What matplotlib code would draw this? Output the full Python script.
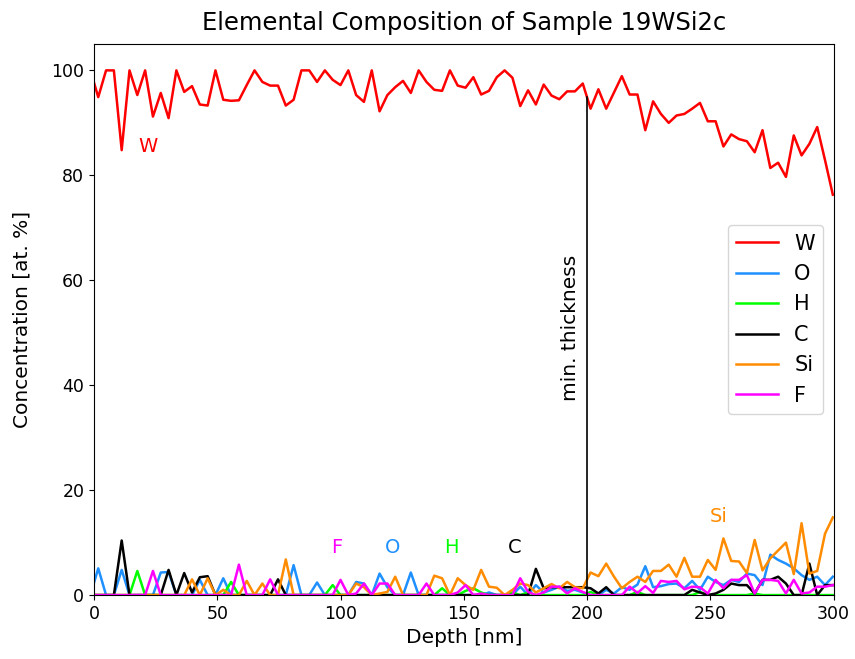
import numpy as np
import matplotlib
matplotlib.use("Agg")
import matplotlib.pyplot as plt

# depth grid (nm), ~3.17 nm spacing
depth = np.round(1.7 + 3.17 * np.arange(-1, 95), 2)

W = [100, 94.9, 100, 100, 84.8, 100, 95.3, 100, 91.2, 95.7, 90.9, 100, 95.9, 97.0, 93.5, 93.3,
     100, 94.4, 94.2, 94.3, 97.2, 100, 97.8, 97.1, 97.1, 93.3, 94.4, 100, 100, 97.8, 100, 98.2,
     97.2, 100, 95.3, 94.0, 100, 92.2, 95.3, 96.8, 98.0, 95.7, 100, 97.8, 96.3, 96.1, 100, 97.1,
     96.7, 98.7, 95.4, 96.1, 98.7, 100, 98.6, 93.2, 96.2, 93.5, 97.3, 95.2, 94.5, 96.0, 96.0, 97.5,
     92.7, 96.4, 92.7, 95.8, 98.9, 95.4, 95.4, 88.6, 94.1, 91.7, 90.0, 91.4, 91.7, 92.7, 93.8, 90.3,
     90.3, 85.5, 87.8, 86.9, 86.5, 84.4, 88.6, 81.4, 82.4, 79.7, 87.6, 83.8, 86.0, 89.2, 82.9, 76.3]

O = [0, 5.1, 0, 0, 4.8, 0, 0, 0, 0, 4.3, 4.4, 0, 0, 0, 2.9, 0,
     0, 3.2, 0, 0, 0, 0, 0, 0, 0, 0, 5.7, 0, 0, 2.4, 0, 0,
     0, 0, 2.5, 2.2, 0, 4.1, 1.5, 0, 0, 4.3, 0, 0, 0, 0, 0, 0,
     0, 0, 0, 0.5, 0, 0, 0, 1.6, 0, 1.9, 0.5, 1.0, 1.6, 0.8, 1.0, 0.5,
     0, 0, 1.0, 0.3, 1.5, 1.0, 2.0, 5.5, 1.5, 1.7, 2.1, 2.2, 1.3, 2.7, 1.0, 3.5,
     2.5, 1.9, 2.9, 2.5, 4.1, 3.8, 1.9, 7.7, 6.7, 6.0, 5.1, 3.8, 2.9, 3.5, 1.9, 3.5]

H = [0, 0, 0, 0, 0, 0, 4.6, 0, 0, 0, 0, 0, 0, 0, 0, 0,
     0, 0, 2.5, 0, 0, 0, 0, 0, 0, 0, 0, 0, 0, 0, 0, 1.9,
     0, 0, 0, 0, 0, 0, 0, 0, 0, 0, 0, 0, 0, 1.3, 0, 0,
     0.8, 1.3, 0.5, 0, 0, 0, 0.5, 0, 0.5, 0, 0, 0, 0, 0, 0, 0,
     0.6, 0, 0, 0, 0, 0, 0.6, 0, 0, 0, 0, 0, 0, 0, 0.6, 0,
     0, 0, 0, 0, 0, 0.3, 0, 0, 0, 0, 0, 0, 0, 0, 0, 0]

C = [0, 0, 0, 0, 10.4, 0, 0, 0, 0, 0, 4.8, 0, 4.2, 0.5, 3.4, 3.6,
     0, 0, 0, 0, 0, 0, 0, 0, 3.0, 0, 0, 0, 0, 0, 0, 0,
     0, 0, 0, 0, 0, 0, 0, 0, 0, 0, 0, 0, 0, 0, 0, 0,
     0, 0, 0, 0, 0, 0, 0, 0, 0, 5.0, 1.3, 1.5, 1.5, 1.5, 1.5, 1.5,
     1.3, 0.3, 1.5, 0, 0, 0, 0, 0, 0, 0, 0, 0, 0, 1.0, 0.5, 0,
     0.3, 1.0, 2.2, 1.9, 1.9, 0.3, 2.9, 2.9, 3.5, 2.2, 0, 0, 6.0, 0, 1.9, 1.9]

Si = [0, 0, 0, 0, 0, 0, 0, 0, 0, 0, 0, 0, 0, 3.0, 0, 3.2,
      0, 1.0, 0, 0, 2.7, 0, 2.2, 0, 0, 6.8, 0, 0, 0, 0, 0, 0,
      0, 0, 2.2, 1.5, 0, 0.3, 0.6, 3.5, 0, 0, 0, 0, 3.7, 3.2, 0, 3.2,
      1.9, 1.0, 4.8, 1.6, 1.4, 0, 1.0, 2.2, 1.9, 0.5, 1.3, 2.1, 1.3, 2.5, 1.5, 1.3,
      4.3, 3.6, 6.0, 3.5, 1.3, 2.5, 3.5, 2.5, 4.6, 4.6, 5.8, 3.5, 7.1, 3.5, 3.5, 6.7,
      4.8, 10.8, 6.5, 6.4, 4.2, 10.5, 4.7, 7.0, 8.5, 10.0, 4.0, 13.7, 4.1, 4.6, 11.7, 14.8]

F = [0, 0, 0, 0, 0, 0, 0, 0, 4.6, 0, 0, 0, 0, 0, 0, 0,
     0, 0, 0, 5.8, 0, 0, 0, 3.0, 0, 0, 0, 0, 0, 0, 0, 0,
     2.9, 0, 0.3, 2.2, 0, 2.2, 2.2, 0, 0, 0, 0, 2.2, 0, 0, 0, 0.5,
     1.9, 0, 0.3, 0, 0, 0, 0, 3.2, 0.6, 0, 0.5, 1.6, 1.6, 0.3, 1.3, 0.6,
     0, 0, 0, 0, 0, 1.6, 0.4, 1.7, 0.4, 2.7, 2.5, 2.7, 1.1, 1.6, 1.5, 0.3,
     2.9, 1.3, 2.9, 2.9, 3.8, 0.3, 2.9, 2.9, 2.7, 0.3, 2.9, 0.3, 0.5, 1.6, 1.6, 1.9]

series = ["W", "O", "H", "C", "Si", "F"]
values = [W, O, H, C, Si, F]
colors = ["#ff0000", "#1e90ff", "#00ff00", "#000000", "#ff8c00", "#ff00ff"]

label_pos = {"W": (22, 85.5), "F": (98.5, 9), "O": (121, 9), "H": (145, 9),
             "C": (170.5, 9), "Si": (253.5, 15)}

min_thickness = 200

fig = plt.figure(figsize=(8.55, 6.59), dpi=100)
ax = fig.add_axes([0.110, 0.097, 0.865, 0.836])

for name, vals, col in zip(series, values, colors):
    ax.plot(depth, vals, color=col, lw=1.8, label=name)

for name, col in zip(series, colors):
    x, y = label_pos[name]
    ax.text(x, y, name, color=col, fontsize=14, ha="center", va="center")

w_at = np.interp(min_thickness, depth, W)
ax.plot([min_thickness, min_thickness], [0, w_at], color="black", lw=1.2)
ax.text(min_thickness - 3, 51, "min. thickness", rotation=90, ha="right",
        va="center", fontsize=14.5)

ax.set_xlim(0, 300)
ax.set_ylim(0, 105)
ax.set_yticks([0, 20, 40, 60, 80, 100])
ax.set_xticks([0, 50, 100, 150, 200, 250, 300])
ax.tick_params(labelsize=12.5)
ax.set_xlabel("Depth [nm]", fontsize=14.5)
ax.set_ylabel("Concentration [at. %]", fontsize=14.5, labelpad=14)
ax.set_title("Elemental Composition of Sample 19WSi2c", fontsize=17.5, pad=10)
ax.legend(loc="center right", fontsize=15, handlelength=2.0)

fig.savefig("out.png", dpi=100)
